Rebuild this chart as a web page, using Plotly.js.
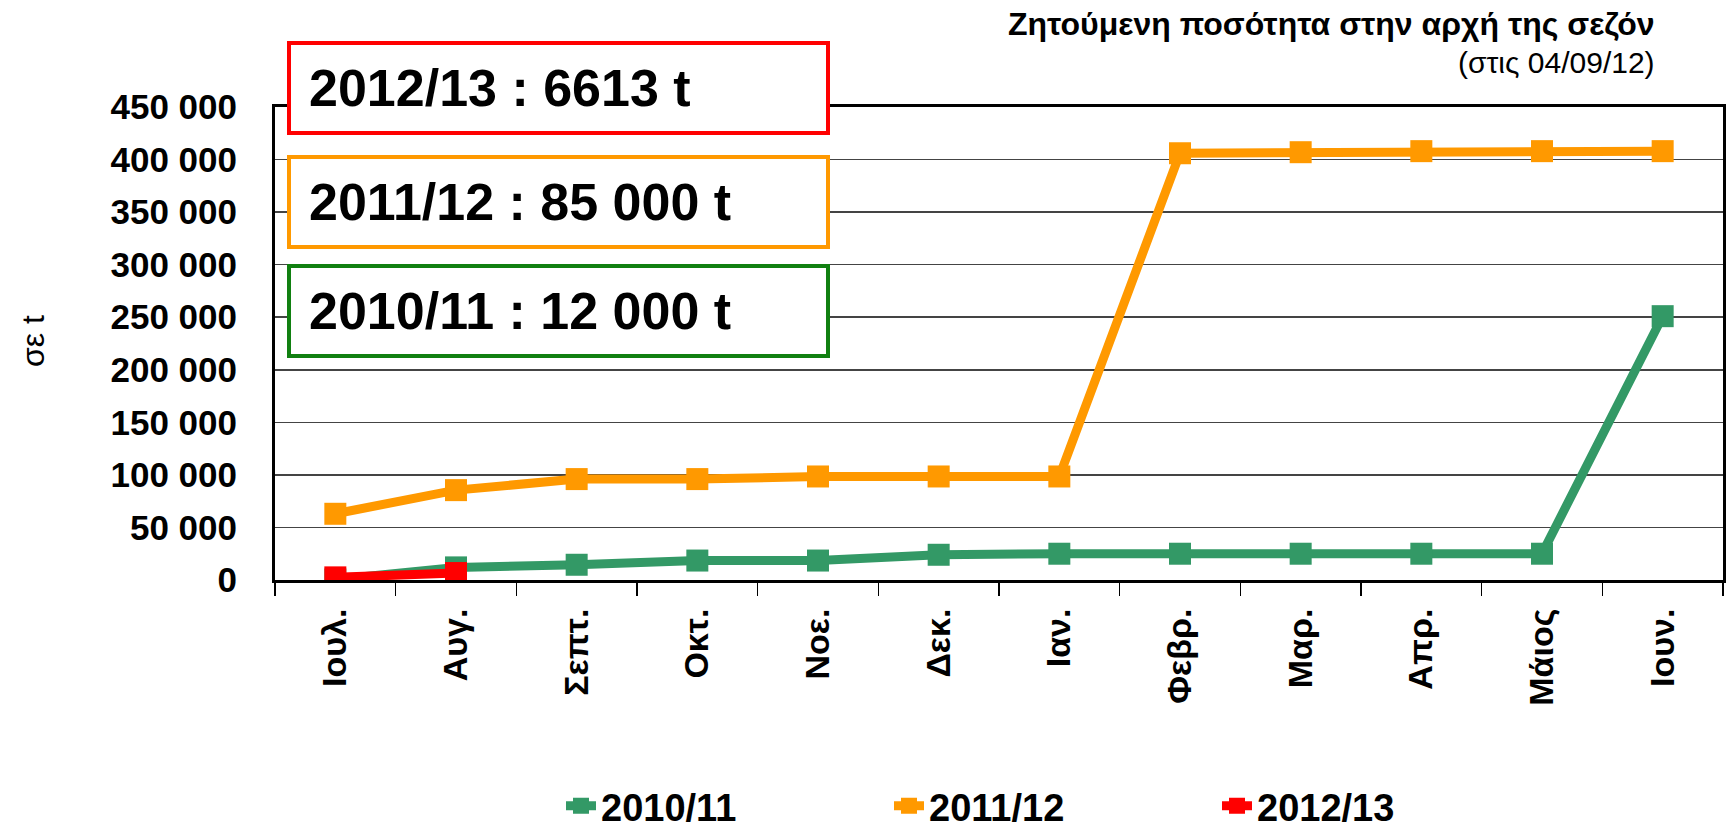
<!DOCTYPE html>
<html>
<head>
<meta charset="utf-8">
<script src="https://cdn.plot.ly/plotly-3.0.1.min.js"></script>
<style>html,body{margin:0;padding:0;background:#fff;}#chart{width:1726px;height:829px;}</style>
</head>
<body>
<div id="chart"></div>
<script>
const months = ['Ιουλ.','Αυγ.','Σεπτ.','Οκτ.','Νοε.','Δεκ.','Ιαν.','Φεβρ.','Μαρ.','Απρ.','Μάιος','Ιουν.'];
const s2010 = [500, 12000, 14500, 18500, 18500, 24000, 25000, 25000, 25000, 25000, 25000, 251000];
const s2011 = [63000, 85500, 96000, 96000, 98500, 98500, 98500, 406000, 407000, 408000, 408000, 408000];
const s2012 = [2500, 6613];
const seasonNames = ['2010/11','2011/12','2012/13'];
const boxTexts = ['2012/13 : 6613 t','2011/12 : 85 000 t','2010/11 : 12 000 t'];
const yTicks = [0,50000,100000,150000,200000,250000,300000,350000,400000,450000];

const FONT = 'Liberation Sans, Arial, sans-serif';
const cGreen = '#339966', cOrange = '#FF9900', cRed = '#FF0000';

function tr(name, y, color){
  return {type:'scatter', mode:'lines+markers', name:name, x:months.slice(0,y.length), y:y,
    line:{color:color, width:9}, marker:{symbol:'square', size:22, color:color}};
}
const data = [tr(seasonNames[0], s2010, cGreen), tr(seasonNames[1], s2011, cOrange), tr(seasonNames[2], s2012, cRed)];

const plotL = 275, plotR = 1723, plotT = 107, plotB = 580;
const W = plotR-plotL, H = plotB-plotT;
const px = x => (x-plotL)/W, py = y => (plotB-y)/H;

const boxColors = [cRed, cOrange, '#118011'];
const boxTops = [43, 157, 266];
const boxH = 90;
const shapes = [], annotations = [];
boxTops.forEach((t,i)=>{
  shapes.push({type:'rect', xref:'paper', yref:'paper', x0:px(289), x1:px(828), y0:py(t+boxH), y1:py(t),
    line:{color:boxColors[i], width:4}, fillcolor:'#ffffff', layer:'above'});
  annotations.push({xref:'paper', yref:'paper', x:px(307), y:py(t+boxH/2), xanchor:'left', yanchor:'middle',
    text:boxTexts[i], showarrow:false, font:{family:FONT, size:52, weight:'bold', color:'#000'}});
});
annotations.push({xref:'paper', yref:'paper', x:px(1657), y:py(24), xanchor:'right', yanchor:'middle',
  text:'Ζητούμενη ποσότητα στην αρχή της σεζόν', showarrow:false, font:{family:FONT, size:32, weight:'bold', color:'#000'}});
annotations.push({xref:'paper', yref:'paper', x:px(1657), y:py(62), xanchor:'right', yanchor:'middle',
  text:'(στις 04/09/12)', showarrow:false, font:{family:FONT, size:30, color:'#000'}});
annotations.push({xref:'paper', yref:'paper', x:px(33), y:py(341), xanchor:'center', yanchor:'middle', textangle:-90,
  text:'σε t', showarrow:false, font:{family:FONT, size:32, color:'#000'}});

const layout = {
  width:1726, height:829,
  margin:{l:plotL, r:1726-plotR, t:plotT, b:829-plotB, autoexpand:false},
  paper_bgcolor:'#fff', plot_bgcolor:'#fff',
  separators:', ',
  showlegend:true,
  font:{family:FONT, color:'#000'},
  xaxis:{type:'category', tickson:'boundaries', ticks:'outside', ticklen:13, tickwidth:1.5, tickcolor:'#000',
    showgrid:false, showline:true, linecolor:'#000', linewidth:3, mirror:true, tickangle:-90,
    ticklabelstandoff:12, automargin:false,
    tickfont:{family:FONT, size:34, weight:'bold', color:'#000'}, range:[-0.5, 11.5], fixedrange:true},
  yaxis:{range:[0,450000], tickvals:yTicks, tickformat:',d', showgrid:true, gridcolor:'#444', gridwidth:1.5,
    showline:true, linecolor:'#000', linewidth:3, mirror:true, ticks:'', zeroline:false,
    ticklabelstandoff:28, automargin:false,
    tickfont:{family:FONT, size:35, weight:'bold', color:'#000'}},
  legend:{orientation:'h', x:px(561), xanchor:'left', y:py(806), yanchor:'middle',
    entrywidth:283, entrywidthmode:'pixels', font:{family:FONT, size:38, weight:'bold', color:'#000'},
    itemclick:false, traceorder:'normal'},
  shapes:shapes, annotations:annotations
};
Plotly.newPlot('chart', data, layout, {staticPlot:true, displayModeBar:false});
</script>
</body>
</html>
